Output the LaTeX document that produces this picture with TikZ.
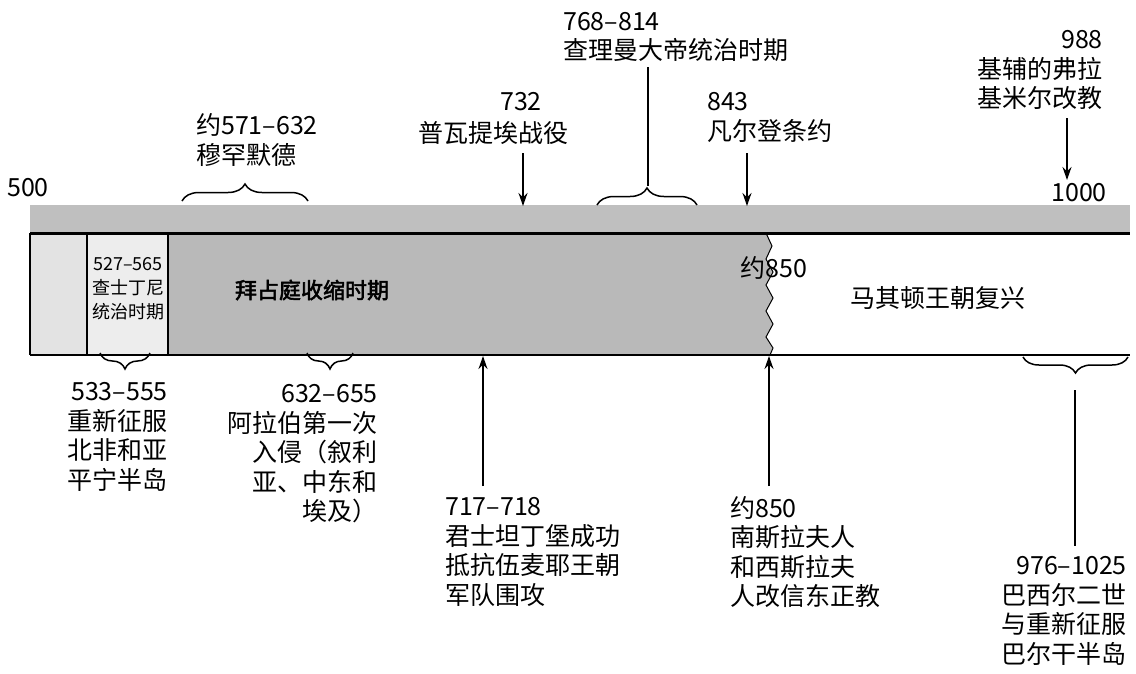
\documentclass[tikz,border=0pt]{standalone}
\usepackage{fontspec}
\setmainfont{Noto Sans CJK SC}
\newfontfamily\cjkbold{Noto Sans CJK SC}[FakeBold=2.5]
\usetikzlibrary{decorations.pathreplacing,arrows.meta}
\tikzset{
  lbl/.style={font=\fontsize{25}{29.5}\selectfont, inner sep=0pt},
  small/.style={font=\fontsize{18}{24}\selectfont, inner sep=0pt},
  arr/.style={line width=1.5pt, -{Stealth[length=13pt,width=9pt]}},
  plain/.style={line width=1.5pt},
  brc/.style={decorate, decoration={brace, amplitude=17pt}, line width=1.5pt},
  brcm/.style={decorate, decoration={brace, mirror, amplitude=16pt}, line width=1.5pt},
  edge/.style={line width=2.6pt},
}
\begin{document}
\begin{tikzpicture}[x=1pt,y=-1pt]
\useasboundingbox (0,0) rectangle (1136,673);

% textured strip
\fill[gray!50] (30,205) rectangle (1130,233);
% panels
\fill[gray!22] (30,233) rectangle (87,355);
\fill[gray!14] (87,233) rectangle (168,355);
\fill[gray!55] (168,233) -- (766,233) -- (772,246) -- (766,259) -- (773,272) -- (766,285)
   -- (773,298) -- (766,311) -- (773,324) -- (766,337) -- (773,348) -- (770,355) -- (168,355) -- cycle;
\draw[line width=1pt] (766,233) -- (772,246) -- (766,259) -- (773,272) -- (766,285)
   -- (773,298) -- (766,311) -- (773,324) -- (766,337) -- (773,348) -- (770,355);
% band lines
\draw[line width=3pt] (30,233) -- (1130,233);
\draw[edge] (30,355) -- (1130,355);
\draw[edge] (30,233) -- (30,355);
\draw[line width=2pt] (87,233) -- (87,355);
\draw[line width=2pt] (168,233) -- (168,355);

% scale labels
\node[lbl] (t500) at (28,188) {500};
\node[lbl] (t1000) at (1079,193) {1000};

% band texts
\node[small, align=center] (just) at (128,289) {527–565\\查士丁尼\\统治时期};
\node[inner sep=0pt, font=\cjkbold\fontsize{22}{26}\selectfont] (byz) at (312,290) {拜占庭收缩时期};
\node[lbl] (c850) at (774,268) {约850};
\node[lbl] (mac) at (938,298) {马其顿王朝复兴};

% top annotations
\node[lbl, anchor=west, align=left] (muh) at (196,140) {约571–632\\穆罕默德};
\draw[brc] (182,201) -- (308,201);

\node[lbl] (y732) at (521,102) {732};
\node[lbl] (poit) at (493,133) {普瓦提埃战役};
\coordinate (a732s) at (523,153);
\coordinate (a732e) at (523,206);
\draw[arr] (a732s) -- (a732e);

\node[lbl, anchor=west, align=left] (charl) at (563,37) {768–814\\查理曼大帝统治时期};
\coordinate (c768s) at (648,67);
\coordinate (c768e) at (648,186);
\draw[plain] (c768s) -- (c768e);
\draw[brc] (597,205) -- (697,205);

\node[lbl, anchor=west, align=left] (verd) at (707,117.5) {843\\凡尔登条约};
\coordinate (a843s) at (747,153);
\coordinate (a843e) at (747,206);
\draw[arr] (a843s) -- (a843e);

\node[lbl, anchor=east, align=right] (kiev) at (1103,70) {988\\基辅的弗拉\\基米尔改教};
\coordinate (a988s) at (1067,118);
\coordinate (a988e) at (1067,180);
\draw[arr] (a988s) -- (a988e);

% bottom annotations
\draw[brcm] (100,353) -- (150,353);
\node[lbl, anchor=east, align=right] (b533) at (168,437) {533–555\\重新征服\\北非和亚\\平宁半岛};

\draw[brcm] (307,353) -- (353,353);
\node[lbl, anchor=east, align=right] (b632) at (378,454) {632–655\\阿拉伯第一次\\入侵（叙利\\亚、中东和\\埃及）};

\coordinate (a717s) at (483,486);
\coordinate (a717e) at (483,356);
\draw[arr] (a717s) -- (a717e);
\node[lbl, anchor=west, align=left] (b717) at (445,552) {717–718\\君士坦丁堡成功\\抵抗伍麦耶王朝\\军队围攻};

\coordinate (a850s) at (769,486);
\coordinate (a850e) at (769,356);
\draw[arr] (a850s) -- (a850e);
\node[lbl, anchor=west, align=left] (b850) at (730,552) {约850\\南斯拉夫人\\和西斯拉夫\\人改信东正教};

\draw[brcm] (1023,357) -- (1128,357);
\coordinate (l976s) at (1075,390);
\coordinate (l976e) at (1075,546);
\draw[plain] (l976s) -- (l976e);
\node[lbl, anchor=east, align=right] (b976) at (1127,611) {976–1025\\巴西尔二世\\与重新征服\\巴尔干半岛};
\end{tikzpicture}
\end{document}
